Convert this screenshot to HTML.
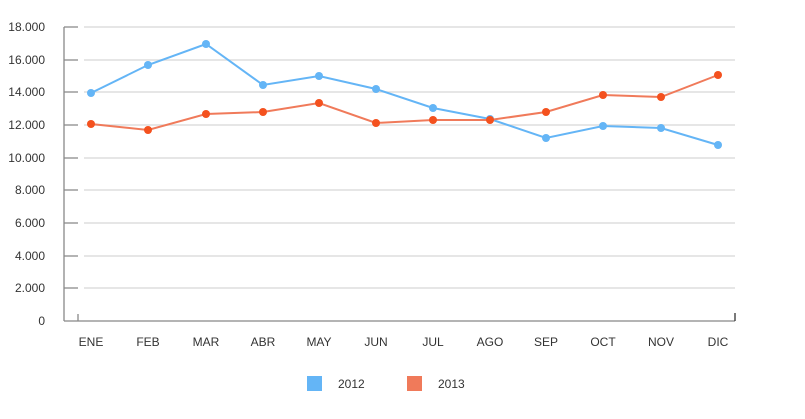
<!DOCTYPE html><html><head><style>body{margin:0;background:#fff}</style></head><body>
<svg width="805" height="414" xmlns="http://www.w3.org/2000/svg" font-family="Liberation Sans, sans-serif" font-size="12" fill="#333">
<g stroke="#ddd" stroke-width="1.5">
<line x1="84" x2="735" y1="27" y2="27"/><line x1="84" x2="735" y1="60" y2="60"/><line x1="84" x2="735" y1="92" y2="92"/><line x1="84" x2="735" y1="125" y2="125"/><line x1="84" x2="735" y1="158" y2="158"/><line x1="84" x2="735" y1="190" y2="190"/><line x1="84" x2="735" y1="223" y2="223"/><line x1="84" x2="735" y1="256" y2="256"/><line x1="84" x2="735" y1="288" y2="288"/>
</g>
<g stroke="#888" stroke-width="1.3" fill="none">
<line x1="64" x2="64" y1="27" y2="321"/>
<path d="M64 27H78M64 60H78M64 92H78M64 125H78M64 158H78M64 190H78M64 223H78M64 256H78M64 288H78M78 321V314"/>
<line x1="64" x2="735" y1="321" y2="321"/><line x1="735" x2="735" y1="313" y2="321" stroke="#333"/>
</g>
<g text-anchor="end">
<text x="45" y="31">18.000</text><text x="45" y="64">16.000</text><text x="45" y="96">14.000</text><text x="45" y="129">12.000</text><text x="45" y="162">10.000</text><text x="45" y="194">8.000</text><text x="45" y="227">6.000</text><text x="45" y="260">4.000</text><text x="45" y="292">2.000</text><text x="45" y="325">0</text>
</g>
<g text-anchor="middle">
<text x="91" y="346">ENE</text><text x="148" y="346">FEB</text><text x="206" y="346">MAR</text><text x="263" y="346">ABR</text><text x="319" y="346">MAY</text><text x="376" y="346">JUN</text><text x="433" y="346">JUL</text><text x="490" y="346">AGO</text><text x="546" y="346">SEP</text><text x="603" y="346">OCT</text><text x="661" y="346">NOV</text><text x="718" y="346">DIC</text>
</g>
<polyline fill="none" stroke="#64b5f6" stroke-width="2" points="91,93 148,65 206,44 263,85 319,76 376,89 433,108 490,119 546,138 603,126 661,128 718,145"/>
<g fill="#64b5f6"><circle cx="91" cy="93" r="4"/><circle cx="148" cy="65" r="4"/><circle cx="206" cy="44" r="4"/><circle cx="263" cy="85" r="4"/><circle cx="319" cy="76" r="4"/><circle cx="376" cy="89" r="4"/><circle cx="433" cy="108" r="4"/><circle cx="490" cy="119" r="4"/><circle cx="546" cy="138" r="4"/><circle cx="603" cy="126" r="4"/><circle cx="661" cy="128" r="4"/><circle cx="718" cy="145" r="4"/></g>
<polyline fill="none" stroke="#f07a5a" stroke-width="2" points="91,124 148,130 206,114 263,112 319,103 376,123 433,120 490,120 546,112 603,95 661,97 718,75"/>
<g fill="#f4511e"><circle cx="91" cy="124" r="4"/><circle cx="148" cy="130" r="4"/><circle cx="206" cy="114" r="4"/><circle cx="263" cy="112" r="4"/><circle cx="319" cy="103" r="4"/><circle cx="376" cy="123" r="4"/><circle cx="433" cy="120" r="4"/><circle cx="490" cy="120" r="4"/><circle cx="546" cy="112" r="4"/><circle cx="603" cy="95" r="4"/><circle cx="661" cy="97" r="4"/><circle cx="718" cy="75" r="4"/></g>
<rect x="307" y="376" width="15" height="15" fill="#64b5f6"/><text x="338" y="388">2012</text>
<rect x="407" y="376" width="15" height="15" fill="#f07a5a"/><text x="438" y="388">2013</text>
</svg>
</body></html>
